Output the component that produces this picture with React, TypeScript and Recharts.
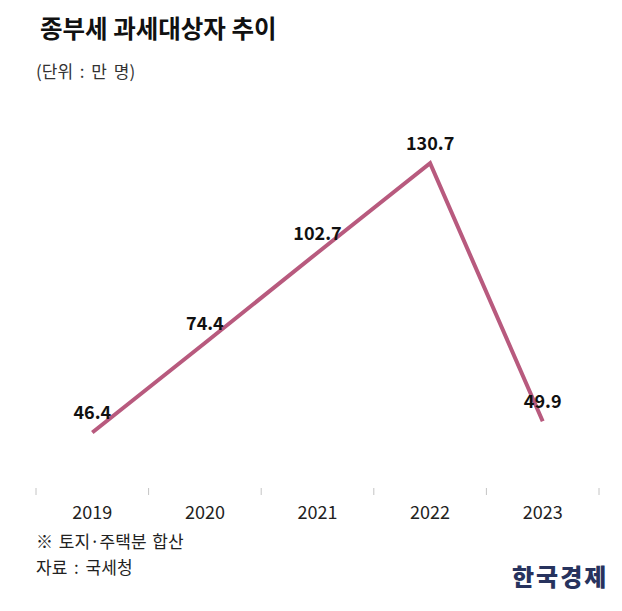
import React from 'react';
import { LineChart, Line, XAxis, YAxis, LabelList } from 'recharts';

const years = ['2019', '2020', '2021', '2022', '2023'];
const taxpayers = [46.4, 74.4, 102.7, 130.7, 49.9];
const boundaryTicks = [-0.5, 0.5, 1.5, 2.5, 3.5, 4.5];
const centerTicks = [0, 1, 2, 3, 4];

const FONT = '"Noto Sans CJK KR", "Noto Sans", sans-serif';
const LINE_COLOR = '#b85a7e';

const data = years.map((year, i) => ({ i, year, value: taxpayers[i] }));

export default function App() {
  return (
    <div style={{ position: 'relative', width: 622, height: 611, background: '#ffffff', fontFamily: FONT, overflow: 'hidden' }}>
      <style>{'body { margin: 0; }'}</style>

      {/* title + unit */}
      <div style={{ position: 'absolute', left: 40, top: 13, fontSize: 24.5, fontWeight: 700, color: '#111', lineHeight: '30px' }}>
        종부세 과세대상자 추이
      </div>
      <div style={{ position: 'absolute', left: 36, top: 60, fontSize: 17, color: '#333', lineHeight: '22px', wordSpacing: 3 }}>
        (단위 : 만 명)
      </div>

      <div style={{ position: 'absolute', left: 0, top: 0 }}>
        <LineChart width={622} height={611} data={data} margin={{ top: 140, right: 23, left: 36, bottom: 93 }}>
          {/* short marks between the years */}
          <XAxis
            xAxisId="grid"
            type="number"
            dataKey="i"
            domain={[-0.5, 4.5]}
            ticks={boundaryTicks}
            tickFormatter={() => ''}
            axisLine={false}
            tickLine={{ stroke: '#c4c4c4', strokeWidth: 1 }}
            tickSize={7}
            height={8}
          />
          <XAxis
            xAxisId="labels"
            type="number"
            dataKey="i"
            domain={[-0.5, 4.5]}
            ticks={centerTicks}
            tickFormatter={(v: number) => years[v] ?? ''}
            axisLine={false}
            tickLine={false}
            tickSize={0}
            tickMargin={10}
            height={22}
            tick={{ fontSize: 18, fill: '#222', fontFamily: FONT }}
          />
          <YAxis hide domain={[29, 138]} />
          <Line
            xAxisId="grid"
            type="linear"
            dataKey="value"
            stroke={LINE_COLOR}
            strokeWidth={4}
            dot={false}
            activeDot={false}
            isAnimationActive={false}
          >
            <LabelList
              dataKey="value"
              position="top"
              offset={13}
              style={{ fontSize: 18, fontWeight: 700, fill: '#111', fontFamily: FONT }}
            />
          </Line>
        </LineChart>
      </div>

      {/* footnotes */}
      <div style={{ position: 'absolute', left: 36, top: 529, fontSize: 17, color: '#222', lineHeight: '24px', wordSpacing: 2 }}>
        ※ 토지·주택분 합산
      </div>
      <div style={{ position: 'absolute', left: 36, top: 555, fontSize: 17, color: '#222', lineHeight: '24px', wordSpacing: 3 }}>
        자료 : 국세청
      </div>
      <div style={{ position: 'absolute', left: 512, top: 561, fontSize: 24, fontWeight: 900, color: '#27335e', lineHeight: '30px', letterSpacing: 2 }}>
        한국경제
      </div>
    </div>
  );
}
